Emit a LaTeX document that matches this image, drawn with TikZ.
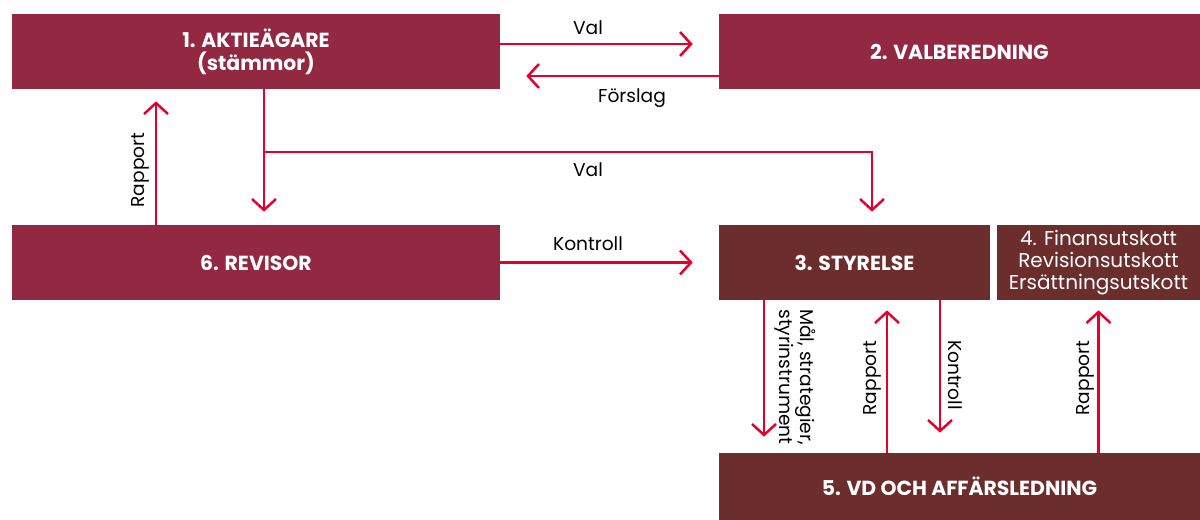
\documentclass[tikz,border=0pt]{standalone}
\usepackage{fontspec}
\setmainfont{Poppins}
\usetikzlibrary{arrows.meta}
\definecolor{boxred}{RGB}{146,40,66}
\definecolor{boxbrown}{RGB}{108,45,45}
\definecolor{linered}{RGB}{228,0,43}

\begin{document}
\begin{tikzpicture}[x=0.02cm,y=-0.02cm,font=\fontsize{10.6}{12}\selectfont,
  red box/.style={fill=boxred,text=white,inner sep=0pt,align=center,minimum height=1.5cm,font=\fontsize{11.6}{13}\selectfont\bfseries},
  brown box/.style={red box,fill=boxbrown},
  flow/.style={draw=linered,line width=1.4pt,-{Straight Barb[length=2.2mm,width=4.8mm]}}]
\tikzstyle{side label} = [inner sep=0pt,align=center]
\useasboundingbox (0,0) rectangle (1200,520);

% boxes
\node[red box, minimum width=9.76cm] (owners) at (256,51.5) {1. AKTIEÄGARE\\(stämmor)};
\node[red box, minimum width=9.62cm] (nomination) at (959.5,51.5) {2. VALBEREDNING};
\node[red box, minimum width=9.76cm] (auditor) at (256,262.5) {6. REVISOR};
\node[brown box, minimum width=5.42cm] (board) at (854.5,262.5) {3. STYRELSE};
\node[brown box, minimum width=4.06cm, font=\fontsize{11.4}{12.6}\selectfont] (committees) at (1098.5,262.5) {4. Finansutskott\\Revisionsutskott\\Ersättningsutskott};
\node[brown box, minimum width=9.62cm, minimum height=1.34cm] (management) at (959.5,486.5) {5. VD OCH AFFÄRSLEDNING};

% top row
\draw[flow, shorten >=0.52cm] ([yshift=0.15cm]owners.east) -- ([yshift=0.15cm]nomination.west);
\node[side label] (valtop) at (588,28) {Val};
\draw[flow, shorten >=0.52cm] ([yshift=-0.49cm]nomination.west) -- ([yshift=-0.49cm]owners.east);
\node[side label] (proposal) at (632,98) {Förslag};

% owners down to auditor and board
\coordinate (split) at (264,152);
\draw[flow, shorten >=0.26cm] ([xshift=0.16cm]owners.south) -- ([xshift=0.16cm]auditor.north);
\draw[flow, shorten >=0.26cm] (split) -| ([xshift=0.35cm]board.north);
\node[side label] (valmid) at (588,170) {Val};

\draw[flow, shorten >=0.24cm] ([xshift=-2cm]auditor.north) -- ([xshift=-2cm]owners.south);
\node[side label, rotate=90] (reportleft) at (140,170) {Rapport};

\draw[flow, shorten >=0.52cm] (auditor.east) -- (board.west);
\node[side label] (control) at (588,244) {Kontroll};

% board and management
\coordinate (goalsstart) at ([xshift=-1.81cm]board.south);
\coordinate (reportstart) at ([xshift=0.65cm]board.south);
\coordinate (controlstart) at ([xshift=1.71cm]board.south);

\draw[flow, shorten >=0.32cm] (goalsstart) -- (goalsstart |- management.north);
\node[side label, align=left, rotate=-90, anchor=west] (goals) at (795,309) {Mål, strategier,\\styrinstrument};

\draw[flow, shorten >=0.2cm] (reportstart |- management.north) -- (reportstart);
\node[side label, rotate=90] (reportmid) at (872,378) {Rapport};

\draw[flow, shorten >=0.4cm] (controlstart) -- (controlstart |- management.north);
\node[side label, rotate=-90] (controldown) at (955,375) {Kontroll};

\draw[flow, shorten >=0.2cm] (management.north -| committees.south) -- (committees.south);
\node[side label, rotate=90] (reportright) at (1085,378) {Rapport};

\end{tikzpicture}
\end{document}
